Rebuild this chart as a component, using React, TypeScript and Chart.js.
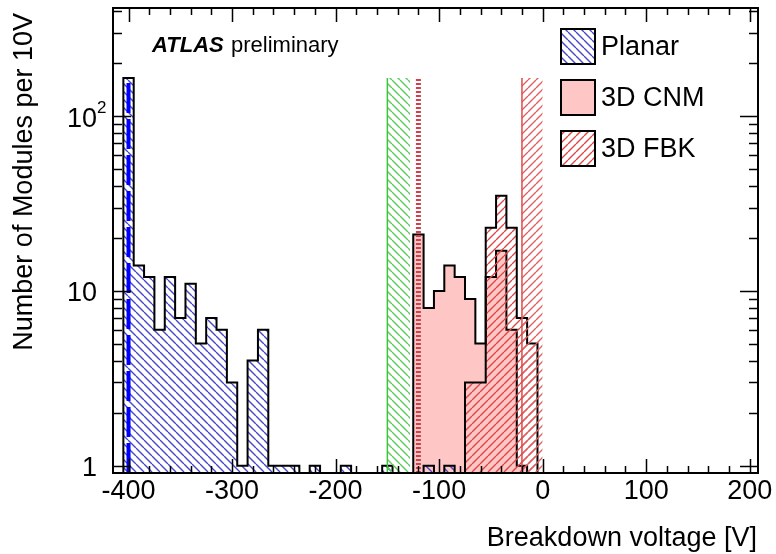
import React, { useEffect, useRef } from 'react';
import { Chart, registerables } from 'chart.js';

Chart.register(...registerables);

const FONT = '"Liberation Sans", Arial, Helvetica, sans-serif';

// ---- axes ----
const X_MIN = -415;
const X_MAX = 208;
const X_TICKS = [-400, -300, -200, -100, 0, 100, 200];
const X_TICK_LABELS = ['-400', '-300', '-200', '-100', '0', '100', '200'];
const X_TITLE = 'Breakdown voltage [V]';

const Y_MIN = 0.91;
const Y_MAX = 415;
const Y_TICKS = [1, 10, 100];
const Y_TICK_LABELS = ['1', '10', '10^2'];
const Y_TITLE = 'Number of Modules per 10V';

const BIN_WIDTH = 10;

// ---- histograms (bin centres [V], counts) ----
const PLANAR_CENTERS = [
  -400, -390, -380, -370, -360, -350, -340, -330, -320, -310, -300, -290, -280, -270, -260, -250,
  -240, -230, -220, -210, -200, -190, -180, -170, -160, -150, -140, -130, -120, -110, -100, -90,
];
const PLANAR_COUNTS = [
  165, 14, 12, 6, 12, 7, 11, 5, 7, 6, 3, 1, 4, 6, 1, 1,
  1, 0, 1, 0, 0, 1, 0, 0, 0, 1, 0, 0, 0, 1, 0, 1,
];

const CNM_CENTERS = [-120, -110, -100, -90, -80, -70, -60, -50, -40, -30, -20];
const CNM_COUNTS = [21, 8, 10, 14, 12, 9, 5, 12, 17, 6, 1];

const FBK_CENTERS = [-70, -60, -50, -40, -30, -20, -10];
const FBK_COUNTS = [3, 3, 23, 35, 23, 7, 5];

const LEGEND_LABELS = ['Planar', '3D CNM', '3D FBK'];

// ---- vertical markers ----
const MARKER_TOP = 165;
const BAND_GREEN = [-150, -128];
const BAND_RED = [-20, 0];
const LINE_RED_DOTTED = -120;
const LINE_BLUE_DASHED = -400;

function makeHatch(color: string, dir: 'back' | 'fwd', s = 8, lw = 1.4) {
  const c = document.createElement('canvas');
  c.width = s;
  c.height = s;
  const g = c.getContext('2d')!;
  g.strokeStyle = color;
  g.lineWidth = lw;
  g.beginPath();
  for (let i = -1; i <= 1; i++) {
    if (dir === 'back') {
      g.moveTo(i * s, 0);
      g.lineTo(i * s + s, s);
    } else {
      g.moveTo(i * s, s);
      g.lineTo(i * s + s, 0);
    }
  }
  g.stroke();
  return g.createPattern(c, 'repeat')!;
}

function histPoints(centers: number[], counts: number[]) {
  const pts: { x: number; y: number }[] = [];
  pts.push({ x: centers[0] - BIN_WIDTH / 2, y: Y_MIN });
  centers.forEach((c, i) => {
    pts.push({ x: c - BIN_WIDTH / 2, y: counts[i] > 0 ? counts[i] : Y_MIN });
  });
  pts.push({ x: centers[centers.length - 1] + BIN_WIDTH / 2, y: Y_MIN });
  return pts;
}

const framePlugin = {
  id: 'rootFrame',
  afterDatasetsDraw(chart: any) {
    const { ctx, chartArea: a, scales } = chart;
    const x = scales.x;
    const y = scales.y;
    ctx.save();
    ctx.strokeStyle = '#000';
    ctx.lineWidth = 2;
    ctx.strokeRect(a.left, a.top, a.right - a.left, a.bottom - a.top);
    ctx.lineWidth = 1.5;
    ctx.beginPath();
    for (let v = -400; v <= 200; v += 20) {
      const px = Math.round(x.getPixelForValue(v)) + 0.5;
      const len = v % 100 === 0 ? 14 : 7;
      ctx.moveTo(px, a.bottom);
      ctx.lineTo(px, a.bottom - len);
      ctx.moveTo(px, a.top);
      ctx.lineTo(px, a.top + len);
    }
    for (let dec = 1; dec <= 100; dec *= 10) {
      for (let m = 1; m <= 9; m++) {
        const v = m * dec;
        if (v > Y_MAX) continue;
        const py = Math.round(y.getPixelForValue(v)) + 0.5;
        const len = m === 1 ? 18 : 9;
        ctx.moveTo(a.left, py);
        ctx.lineTo(a.left + len, py);
        ctx.moveTo(a.right, py);
        ctx.lineTo(a.right - len, py);
      }
    }
    ctx.stroke();
    ctx.restore();
  },
  afterDraw(chart: any) {
    const { ctx, scales } = chart;
    const y = scales.y;
    ctx.save();
    ctx.fillStyle = '#000';
    // y tick labels
    Y_TICKS.forEach((v, i) => {
      const py = y.getPixelForValue(v) + 3;
      const [base, sup] = Y_TICK_LABELS[i].split('^');
      ctx.font = `27px ${FONT}`;
      ctx.textAlign = 'right';
      ctx.textBaseline = 'middle';
      ctx.fillText(base, 97, py);
      if (sup) {
        ctx.font = `17px ${FONT}`;
        ctx.textAlign = 'left';
        ctx.fillText(sup, 97, py - 11);
      }
    });
    // y title
    ctx.save();
    ctx.translate(32, 13);
    ctx.rotate(-Math.PI / 2);
    ctx.font = `27px ${FONT}`;
    ctx.textAlign = 'right';
    ctx.textBaseline = 'alphabetic';
    ctx.fillText(Y_TITLE, 0, 0);
    ctx.restore();
    // x title
    ctx.font = `27px ${FONT}`;
    ctx.textAlign = 'right';
    ctx.textBaseline = 'alphabetic';
    ctx.fillText(X_TITLE, 757, 546);
    // ATLAS label
    ctx.textAlign = 'left';
    ctx.font = `italic bold 22px ${FONT}`;
    ctx.fillText('ATLAS', 152, 52);
    ctx.font = `22px ${FONT}`;
    ctx.fillText('preliminary', 231, 52);
    // legend
    const ds = chart.data.datasets;
    const tops = [29, 80, 131];
    LEGEND_LABELS.forEach((lab, i) => {
      const d = ds[i];
      const bx = 561, by = tops[i], bw = 34, bh = 35;
      ctx.fillStyle = d.backgroundColor;
      ctx.fillRect(bx, by, bw, bh);
      ctx.strokeStyle = '#000';
      ctx.lineWidth = 2;
      ctx.strokeRect(bx, by, bw, bh);
      ctx.fillStyle = '#000';
      ctx.font = `27px ${FONT}`;
      ctx.textAlign = 'left';
      ctx.textBaseline = 'middle';
      ctx.fillText(lab, 601, by + bh / 2 + 1);
    });
    ctx.restore();
  },
};

export default function App() {
  const ref = useRef<HTMLCanvasElement>(null);
  useEffect(() => {
    const canvas = ref.current!;
    Chart.defaults.font.family = FONT;
    const planarHatch = makeHatch('#4848c8', 'back');
    const fbkHatch = makeHatch('#dc4848', 'fwd');
    const greenHatch = makeHatch('#5ccc5c', 'back');
    const redBandHatch = makeHatch('#e06060', 'fwd');
    const hist = { stepped: 'before', fill: 'start', borderColor: '#000', borderWidth: 2, pointRadius: 0 };
    const vline = (xv: number) => [
      { x: xv, y: Y_MIN },
      { x: xv, y: MARKER_TOP },
    ];
    const chart = new Chart(canvas, {
      type: 'line',
      data: {
        datasets: [
          { ...hist, label: LEGEND_LABELS[0], data: histPoints(PLANAR_CENTERS, PLANAR_COUNTS), backgroundColor: planarHatch, order: 4 },
          { ...hist, label: LEGEND_LABELS[1], data: histPoints(CNM_CENTERS, CNM_COUNTS), backgroundColor: '#ffc6c6', order: 6 },
          { ...hist, label: LEGEND_LABELS[2], data: histPoints(FBK_CENTERS, FBK_COUNTS), backgroundColor: fbkHatch, order: 5 },
          {
            label: 'green band',
            data: [{ x: BAND_GREEN[0], y: MARKER_TOP }, { x: BAND_GREEN[1], y: MARKER_TOP }],
            fill: 'start', backgroundColor: greenHatch, borderColor: 'rgba(0,0,0,0)', borderWidth: 1, pointRadius: 0, order: 3,
          },
          {
            label: 'red band',
            data: [{ x: BAND_RED[0], y: MARKER_TOP }, { x: BAND_RED[1], y: MARKER_TOP }],
            fill: 'start', backgroundColor: redBandHatch, borderColor: 'rgba(0,0,0,0)', borderWidth: 1, pointRadius: 0, order: 3,
          },
          { label: 'green edge', data: vline(BAND_GREEN[0]), borderColor: '#3ec43e', borderWidth: 1.5, pointRadius: 0, fill: false, order: 2 },
          { label: 'red edge', data: vline(BAND_RED[0]), borderColor: '#e04a4a', borderWidth: 1.5, pointRadius: 0, fill: false, order: 2 },
          { label: 'red dotted', data: vline(LINE_RED_DOTTED), borderColor: '#d2404e', borderWidth: 5, borderDash: [2, 2], pointRadius: 0, fill: false, order: 1 },
          { label: 'blue dashed', data: vline(LINE_BLUE_DASHED), borderColor: '#0000ff', borderWidth: 4, borderDash: [30, 6], pointRadius: 0, fill: false, order: 0 },
        ] as any,
      },
      options: {
        animation: false,
        responsive: false,
        devicePixelRatio: 1,
        events: [],
        layout: { padding: { left: 0, right: 18, top: 8, bottom: 0 } },
        plugins: { legend: { display: false }, tooltip: { enabled: false } },
        elements: { line: { tension: 0 }, point: { radius: 0 } },
        scales: {
          x: {
            type: 'linear',
            min: X_MIN,
            max: X_MAX,
            grid: { display: false, drawTicks: false },
            border: { display: false },
            ticks: {
              color: '#000',
              font: { size: 27, family: FONT },
              padding: 2,
              maxRotation: 0,
              autoSkip: false,
              callback: (v: any) => {
                const i = X_TICKS.indexOf(Number(v));
                return i >= 0 ? X_TICK_LABELS[i] : '';
              },
            },
            afterBuildTicks: (s: any) => {
              s.ticks = X_TICKS.map((v) => ({ value: v }));
            },
            afterFit: (s: any) => {
              s.height = 81;
              s.paddingLeft = 0;
              s.paddingRight = 0;
            },
          },
          y: {
            type: 'logarithmic',
            min: Y_MIN,
            max: Y_MAX,
            grid: { display: false, drawTicks: false },
            border: { display: false },
            ticks: { display: false },
            afterFit: (s: any) => {
              s.width = 113;
              s.paddingTop = 0;
              s.paddingBottom = 0;
            },
          },
        },
      } as any,
      plugins: [framePlugin],
    });
    return () => chart.destroy();
  }, []);
  return (
    <div style={{ position: 'absolute', left: 0, top: 0, width: 776, height: 554, background: '#fff' }}>
      <canvas ref={ref} width={776} height={554} style={{ display: 'block' }} />
    </div>
  );
}
